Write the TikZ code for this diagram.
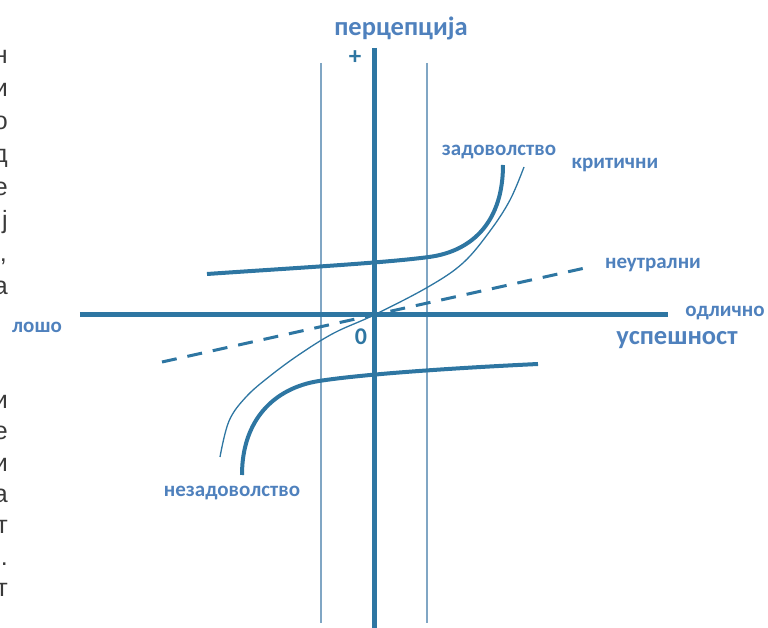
\documentclass[tikz,border=0pt]{standalone}
\usepackage{fontspec}
\setmainfont{Carlito}
\newfontfamily\pagefont{Liberation Sans}
\usetikzlibrary{arrows.meta,positioning,calc}
\usepackage{xcolor}
\definecolor{steel}{RGB}{46,118,162}
\definecolor{pale}{RGB}{128,166,196}
\definecolor{lblue}{RGB}{79,129,189}
\definecolor{ink}{RGB}{58,58,58}

\begin{document}
\begin{tikzpicture}[x=1pt,y=1pt,font=\bfseries\fontsize{21}{25}\selectfont,
  lbl/.style={text=lblue,inner sep=0pt},
  biglbl/.style={lbl,font=\bfseries\fontsize{26.5}{31}\selectfont},
  pagetxt/.style={anchor=base east,inner sep=0pt,text=ink,font=\pagefont\fontsize{25}{29}\selectfont}]
\useasboundingbox (-374,-313) rectangle (394,315);
% cut-off text of the page on the left
\foreach \c/\y in {н/251,и/218,о/185,д/152,е/119,ј/86,а/20,
  и/-94,е/-125,и/-157,а/-188,т/-219,./-251,т/-282}
  \node[pagetxt] at (-366,\y) {\c};
\node[pagetxt] (comma) at (-367,53) {,};
% axes
\draw[pale,line width=1.5pt] (-53,252)--(-53,-308);
\draw[pale,line width=1.5pt] (53,252)--(53,-308);
\draw[steel,line width=5pt] (-294,0)--(294,0);
\draw[steel,line width=5pt] (0,267)--(0,-313);
% neutral
\draw[steel,line width=3pt,dash pattern=on 15pt off 11pt] (-212,-47)--(211,47);
% critical
\draw[steel,line width=1.3pt] plot[smooth,tension=0.6] coordinates {(-154,-142) (-145,-106) (-128,-82) (-104,-61) (-74,-39) (-40,-18) (0,0) (54,28) (89,52) (116,84) (136,115) (150,148)};
% satisfaction / dissatisfaction
\draw[steel,line width=4pt] (-167,41) .. controls (-80,47) and (10,52) .. (55,58)
  .. controls (100,64) and (129,95) .. (129,150);
\draw[steel,line width=4pt] (164,-49) .. controls (80,-53) and (-10,-59) .. (-55,-66)
  .. controls (-100,-73) and (-132,-105) .. (-132,-160);
% labels
\node[biglbl] (perc) at (27,287) {перцепција};
\node[text=steel,inner sep=0pt,font=\bfseries\fontsize{25}{30}\selectfont] (plus) at (-19,257) {+};
\node[text=steel,inner sep=0pt,font=\bfseries\fontsize{24}{28}\selectfont] (zero) at (-13,-22) {0};
\node[lbl] (losho) at (-337,-12) {лошо};
\node[lbl] (odlicno) at (351,2) {одлично};
\node[biglbl] (uspeh) at (303,-25) {успешност};
\node[lbl] (neutral) at (279,50) {неутрални};
\node[lbl] (zadov) at (125,163) {задоволство};
\node[lbl] (kritic) at (241,150) {критични};
\node[lbl] (nezadov) at (-142,-178) {незадоволство};
\end{tikzpicture}
\end{document}
